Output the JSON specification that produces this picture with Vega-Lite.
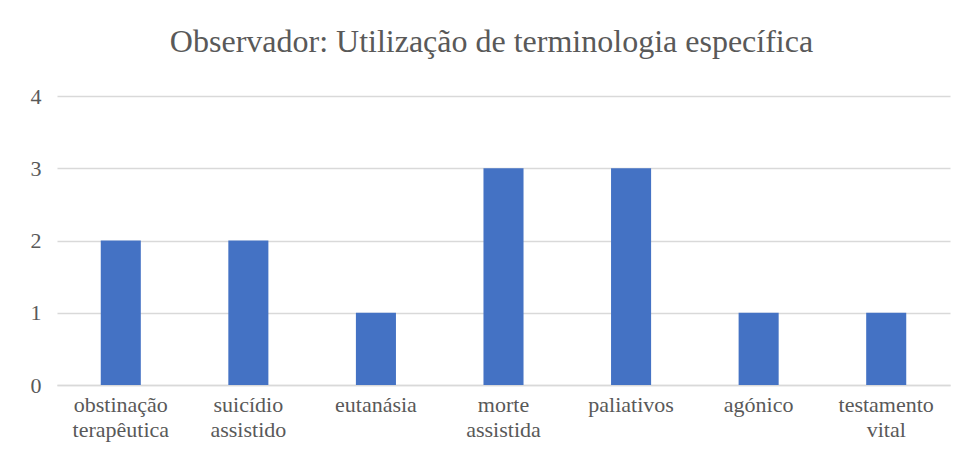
{
  "$schema": "https://vega.github.io/schema/vega-lite/v6.json",
  "autosize": {"type": "none"},
  "width": 893,
  "height": 289,
  "padding": {"left": 57, "top": 96, "right": 17, "bottom": 71},
  "background": "white",
  "title": {
    "text": "Observador: Utilização de terminologia específica",
    "font": "'Liberation Serif', 'DejaVu Serif', serif",
    "fontSize": 32,
    "fontWeight": "normal",
    "color": "#595959",
    "anchor": "middle",
    "dx": -12,
    "offset": 26
  },
  "data": {
    "values": [
      {"termo": "obstinação terapêutica", "n": 2},
      {"termo": "suicídio assistido", "n": 2},
      {"termo": "eutanásia", "n": 1},
      {"termo": "morte assistida", "n": 3},
      {"termo": "paliativos", "n": 3},
      {"termo": "agónico", "n": 1},
      {"termo": "testamento vital", "n": 1}
    ]
  },
  "mark": {"type": "bar", "color": "#4472c4"},
  "encoding": {
    "x": {
      "field": "termo",
      "type": "nominal",
      "sort": null,
      "scale": {"paddingInner": 0.686, "paddingOuter": 0.343},
      "axis": {
        "title": null,
        "labelAngle": 0,
        "labelExpr": "split(datum.label, ' ')",
        "labelFont": "'Liberation Serif', 'DejaVu Serif', serif",
        "labelFontSize": 22,
        "labelColor": "#595959",
        "labelLineHeight": 25,
        "labelPadding": 9,
        "labelBaseline": "top",
        "labelLimit": 200,
        "ticks": false,
        "domainColor": "#d9d9d9",
        "domainWidth": 1.5,
        "grid": false
      }
    },
    "y": {
      "field": "n",
      "type": "quantitative",
      "scale": {"domain": [0, 4]},
      "axis": {
        "title": null,
        "values": [0, 1, 2, 3, 4],
        "labelFont": "'Liberation Serif', 'DejaVu Serif', serif",
        "labelFontSize": 22,
        "labelColor": "#595959",
        "labelPadding": 16,
        "ticks": false,
        "domain": false,
        "gridColor": "#d9d9d9",
        "gridWidth": 1.5
      }
    }
  },
  "config": {"view": {"stroke": null}}
}
